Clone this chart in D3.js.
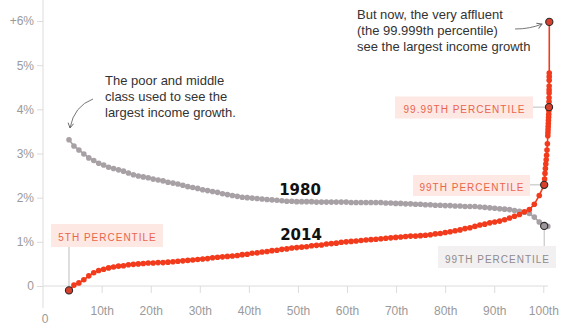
<!DOCTYPE html>
<head>
  <meta charset="utf-8">
  <script src="https://d3js.org/d3.v7.min.js"></script>
  <style>
    body { margin:0; background:#fff; }
    text { font-family: "Liberation Sans", Arial, sans-serif; }
    .tick-label { font-size: 12px; fill: #9a9a9a; }
    .note { font-size: 13px; fill: #333; }
    .year { font-family: "DejaVu Sans", sans-serif; font-weight: bold; font-size: 15px; fill: #111; }
    .tag { font-size: 10px; letter-spacing: 1px; text-anchor: middle; }
  </style>
</head>
<body>
  <svg id="chart" width="586" height="330"></svg>
  <script>
  // percentile groups (main run)
  var pct = [3,4,5,6,7,8,9,10,11,12,13,14,15,16,17,18,19,20,21,22,23,24,25,26,27,28,29,30,
    31,32,33,34,35,36,37,38,39,40,41,42,43,44,45,46,47,48,49,50,51,52,53,54,55,56,57,58,59,60,
    61,62,63,64,65,66,67,68,69,70,71,72,73,74,75,76,77,78,79,80,81,82,83,84,85,86,87,88,89,90,
    91,92,93,94,95,96,97,98,99];

  // average annual income growth, %, 1980
  var growth1980 = [3.31,3.17,3.08,2.99,2.90,2.84,2.78,2.74,2.69,2.66,2.63,2.60,2.56,2.52,2.49,2.47,2.45,2.42,2.40,2.38,
    2.35,2.33,2.31,2.28,2.25,2.23,2.21,2.18,2.16,2.14,2.12,2.09,2.07,2.05,2.03,2.01,2.00,1.99,1.98,1.97,
    1.96,1.95,1.94,1.93,1.92,1.92,1.91,1.91,1.91,1.91,1.90,1.90,1.90,1.90,1.90,1.90,1.90,1.89,1.89,1.89,
    1.89,1.89,1.89,1.89,1.88,1.88,1.87,1.87,1.86,1.86,1.85,1.85,1.84,1.84,1.83,1.83,1.82,1.82,1.81,1.81,
    1.80,1.80,1.80,1.79,1.78,1.77,1.76,1.75,1.74,1.73,1.71,1.69,1.67,1.64,1.56,1.45,1.36];
  var topPct1980 = [99.9];
  var topGrowth1980 = [1.35];

  // 2014
  var growth2014 = [-0.10,0.02,0.07,0.14,0.23,0.30,0.35,0.38,0.41,0.43,0.45,0.46,0.48,0.49,0.50,0.51,0.52,0.52,0.53,0.53,
    0.54,0.55,0.56,0.57,0.58,0.59,0.60,0.61,0.62,0.64,0.65,0.66,0.67,0.68,0.69,0.71,0.72,0.74,0.75,0.77,
    0.78,0.80,0.81,0.83,0.84,0.86,0.87,0.88,0.89,0.91,0.92,0.93,0.95,0.96,0.97,0.99,1.00,1.01,1.02,1.03,
    1.04,1.05,1.06,1.07,1.08,1.09,1.10,1.11,1.12,1.13,1.13,1.14,1.15,1.16,1.18,1.19,1.21,1.23,1.25,1.27,
    1.30,1.32,1.35,1.38,1.40,1.43,1.45,1.47,1.50,1.54,1.58,1.62,1.68,1.73,1.85,2.05,2.29];
  var topPct2014 = [99.1,99.2,99.3,99.4,99.5,99.6,99.7,99.8,99.9,99.91,99.92,99.93,99.94,99.95,99.96,99.97,99.98,99.99,
    99.991,99.992,99.993,99.994,99.995,99.996,99.997,99.998,99.999];
  var topGrowth2014 = [2.42,2.55,2.66,2.76,2.86,2.96,3.08,3.22,3.40,3.47,3.54,3.61,3.68,3.75,3.82,3.89,3.97,4.05,
    4.17,4.26,4.37,4.44,4.53,4.66,4.74,4.82,5.98];

  var yTicks = [0,1,2,3,4,5,6];
  var yTickLabels = ["0","1%","2%","3%","4%","5%","+6%"];
  var xTicks = [10,20,30,40,50,60,70,80,90,100];
  var xTickLabels = ["10th","20th","30th","40th","50th","60th","70th","80th","90th","100th"];

  var red = "#f23b1c", grey = "#a7a0a5";

  var svg = d3.select("#chart");

  var y = d3.scaleLinear().domain([0, 6]).range([286, 21]);
  // axis scale for the tick labels
  var xAxisScale = d3.scaleLinear().domain([0, 100]).range([52.6, 543.3]);
  // the top percent is squeezed into the last few pixels
  var x = d3.scaleLinear().domain([3, 99, 99.9, 99.99, 99.999]).range([69, 544.2, 547.8, 549, 549.3]);

  var s1980 = pct.map(function(p, i) { return [p, growth1980[i]]; })
    .concat(topPct1980.map(function(p, i) { return [p, topGrowth1980[i]]; }));
  var s2014 = pct.map(function(p, i) { return [p, growth2014[i]]; })
    .concat(topPct2014.map(function(p, i) { return [p, topGrowth2014[i]]; }));

  // y axis
  svg.append("line").attr("x1", 43).attr("x2", 43).attr("y1", 0).attr("y2", 308)
    .attr("stroke", "#dcdcdc");
  var yAxis = d3.axisLeft(y).tickValues(yTicks).tickSize(6).tickPadding(3)
    .tickFormat(function(d, i) { return yTickLabels[i]; });
  var gy = svg.append("g").attr("transform", "translate(43,0)").call(yAxis);
  gy.select(".domain").remove();
  gy.selectAll("line").attr("stroke", "#dcdcdc");
  gy.selectAll("text").attr("class", "tick-label").attr("font-size", null).attr("font-family", null);

  // x axis along the zero line
  svg.append("line").attr("x1", 43).attr("x2", 548).attr("y1", y(0)).attr("y2", y(0))
    .attr("stroke", "#dcdcdc");
  var xAxis = d3.axisBottom(xAxisScale).tickValues(xTicks).tickSize(7).tickPadding(13)
    .tickFormat(function(d, i) { return xTickLabels[i]; });
  var gx = svg.append("g").attr("transform", "translate(0," + y(0) + ")").call(xAxis);
  gx.select(".domain").remove();
  gx.selectAll("line").attr("stroke", "#dcdcdc");
  gx.selectAll("text").attr("class", "tick-label").attr("font-size", null).attr("font-family", null);
  svg.append("text").attr("class", "tick-label").attr("x", 45).attr("y", 323)
    .attr("text-anchor", "middle").text("0");

  // label boxes + connectors
  function tag(cx, cy, w, h, txt, fill, color) {
    svg.append("rect").attr("x", cx - w / 2).attr("y", cy - h / 2).attr("width", w).attr("height", h)
      .attr("fill", fill);
    svg.append("text").attr("class", "tag").attr("x", cx + 0.5).attr("y", cy + 5.5)
      .attr("fill", color).text(txt);
  }
  var conn = "#bdbdbd";
  svg.append("line").attr("x1", x(3)).attr("x2", x(3)).attr("y1", 247).attr("y2", y(growth2014[0]))
    .attr("stroke", conn);
  tag(107, 235.5, 112, 23, "5TH PERCENTILE", "#fde8e4", "#e9654b");
  svg.append("line").attr("x1", 530).attr("x2", x(99)).attr("y1", y(2.29)).attr("y2", y(2.29))
    .attr("stroke", conn);
  tag(471.5, 185.5, 117, 21, "99TH PERCENTILE", "#fde8e4", "#e9654b");
  svg.append("line").attr("x1", 532).attr("x2", x(99.99)).attr("y1", y(4.05)).attr("y2", y(4.05))
    .attr("stroke", conn);
  tag(464, 107.5, 138, 22, "99.99TH PERCENTILE", "#fde8e4", "#e9654b");
  svg.append("line").attr("x1", x(99)).attr("x2", x(99)).attr("y1", y(1.36)).attr("y2", 246)
    .attr("stroke", conn);
  tag(497, 257, 118, 22, "99TH PERCENTILE", "#f2f0f1", "#8f8a8d");

  var line = d3.line().x(function(d) { return x(d[0]); }).y(function(d) { return y(d[1]); });

  function series(data, color) {
    svg.append("path").attr("d", line(data)).attr("fill", "none")
      .attr("stroke", color).attr("stroke-width", 1.6);
    svg.append("g").selectAll("circle").data(data).join("circle")
      .attr("cx", function(d) { return x(d[0]); })
      .attr("cy", function(d) { return y(d[1]); })
      .attr("r", 2.8).attr("fill", color);
  }
  series(s1980, grey);
  series(s2014, red);

  // highlighted points
  var marks = [[99, 1.36, "#9d979b"], [3, -0.10, "#d9402c"], [99, 2.29, "#d9402c"],
    [99.99, 4.05, "#d9402c"], [99.999, 5.98, "#d9402c"]];
  svg.append("g").selectAll("circle").data(marks).join("circle")
    .attr("cx", function(d) { return x(d[0]); })
    .attr("cy", function(d) { return y(d[1]); })
    .attr("r", 3.6).attr("fill", function(d) { return d[2]; })
    .attr("stroke", "#2a2a2a").attr("stroke-width", 1.1);

  // year labels
  svg.append("text").attr("class", "year").attr("x", 300).attr("y", 195).attr("text-anchor", "middle").text("1980");
  svg.append("text").attr("class", "year").attr("x", 301).attr("y", 240).attr("text-anchor", "middle").text("2014");

  // annotations
  svg.append("defs").append("marker").attr("id", "arr").attr("viewBox", "0 0 10 10")
    .attr("refX", 8).attr("refY", 5).attr("markerWidth", 7).attr("markerHeight", 7)
    .attr("orient", "auto-start-reverse")
    .append("path").attr("d", "M1,1 L8,5 L1,9").attr("fill", "none").attr("stroke", "#666").attr("stroke-width", 1.3);

  var left = svg.append("text").attr("class", "note").attr("x", 105).attr("y", 85);
  ["The poor and middle", "class used to see the", "largest income growth."].forEach(function(t, i) {
    left.append("tspan").attr("x", 105).attr("dy", i ? 16 : 0).text(t);
  });
  svg.append("path").attr("d", "M93,99 Q74,106 70,128").attr("fill", "none")
    .attr("stroke", "#777").attr("marker-end", "url(#arr)");

  var right = svg.append("text").attr("class", "note").attr("x", 357).attr("y", 19);
  ["But now, the very affluent", "(the 99.999th percentile)", "see the largest income growth"].forEach(function(t, i) {
    right.append("tspan").attr("x", 357).attr("dy", i ? 16 : 0).text(t);
  });
  svg.append("path").attr("d", "M515,29 Q530,29 542,24").attr("fill", "none")
    .attr("stroke", "#777").attr("marker-end", "url(#arr)");
  </script>
</body>
